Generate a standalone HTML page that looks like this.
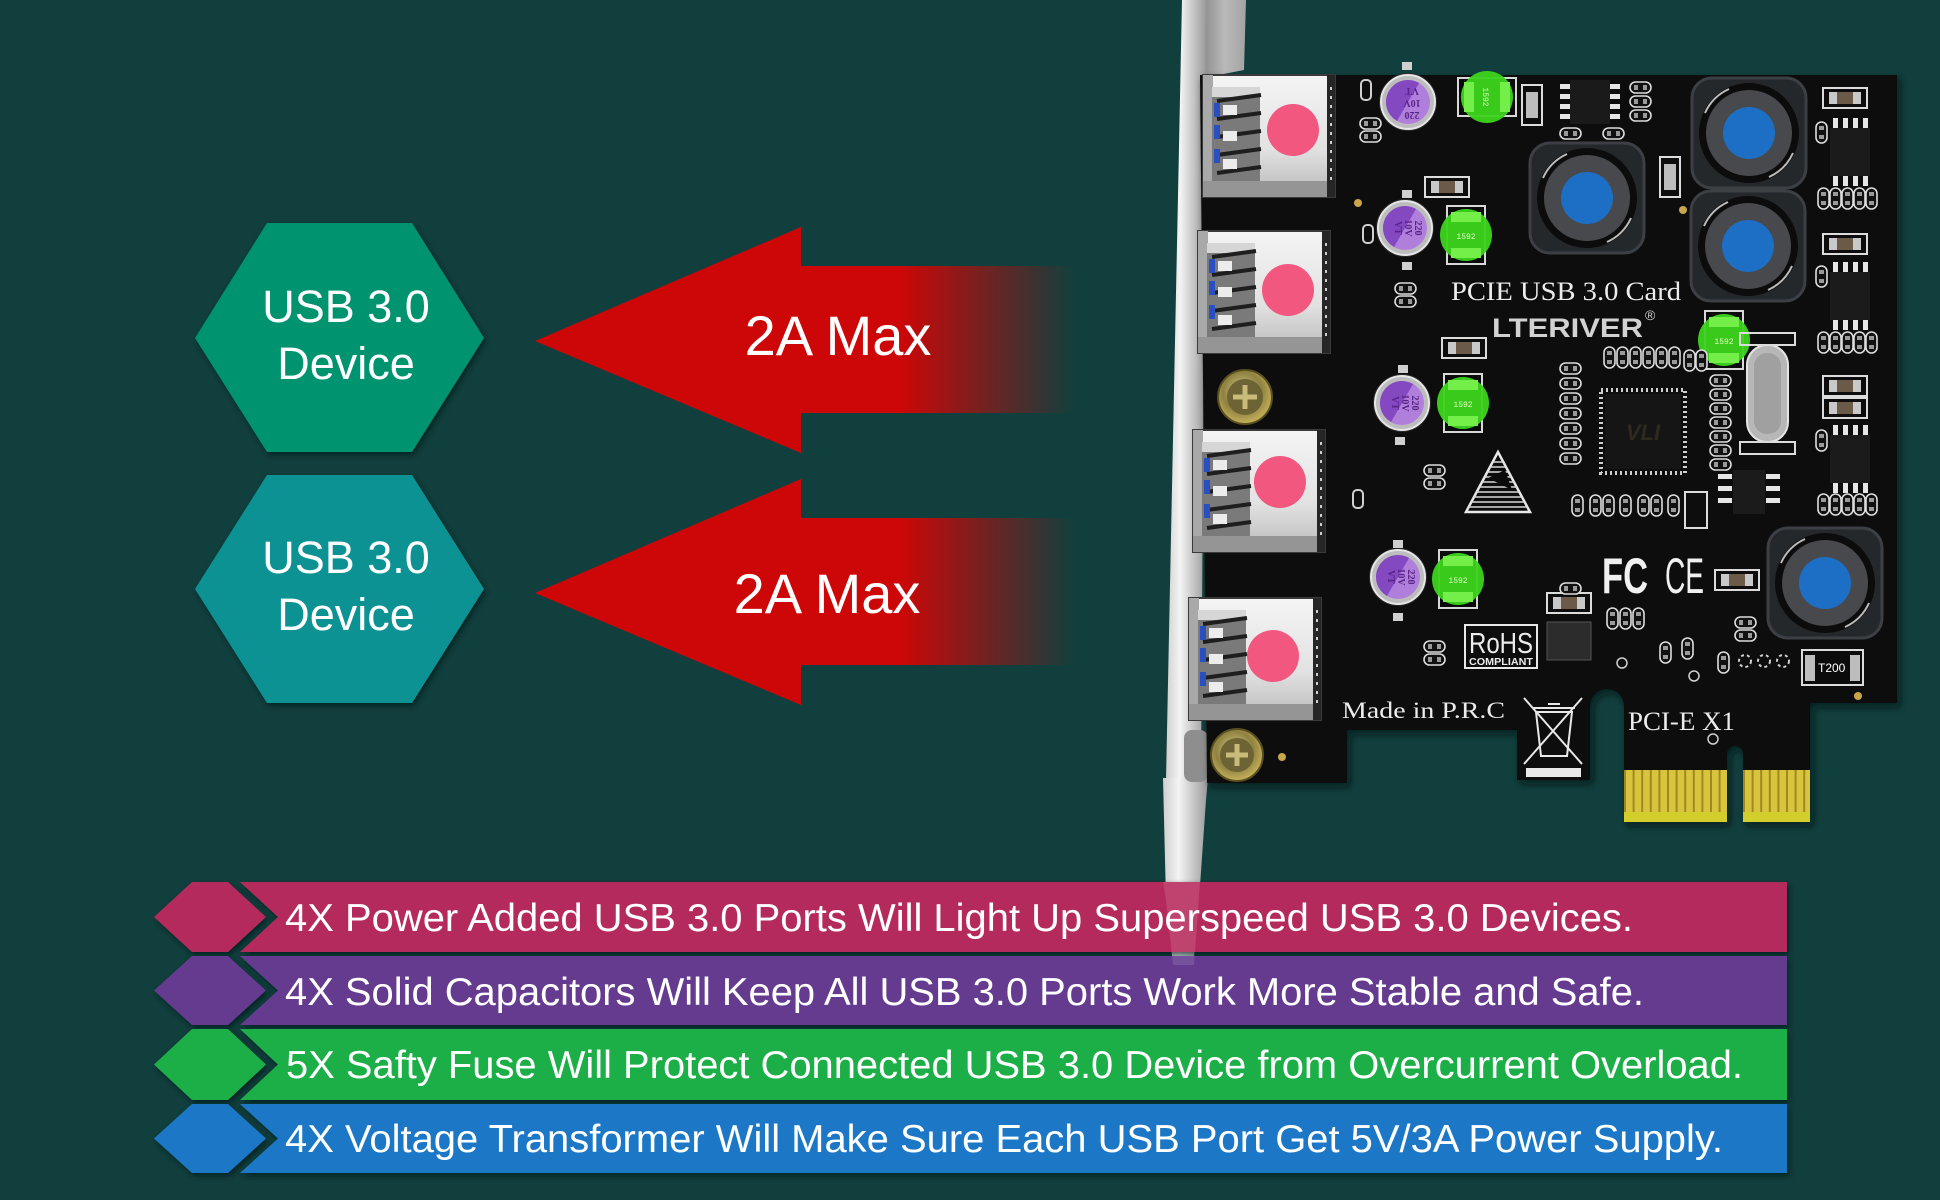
<!DOCTYPE html>
<html><head><meta charset="utf-8">
<style>
html,body{margin:0;padding:0;background:#113f3d;}
svg{display:block;}
</style></head><body>
<svg width="1940" height="1200" viewBox="0 0 1940 1200" xmlns="http://www.w3.org/2000/svg" xmlns:xlink="http://www.w3.org/1999/xlink" font-family="'Liberation Sans', Arial, sans-serif">
<defs>
  <filter id="sh" x="-10%" y="-10%" width="130%" height="130%">
    <feDropShadow dx="2" dy="3" stdDeviation="3" flood-color="#03201e" flood-opacity="0.85"/>
  </filter>
  <filter id="bsh" x="-5%" y="-5%" width="110%" height="110%">
    <feDropShadow dx="3" dy="4" stdDeviation="4" flood-color="#031816" flood-opacity="0.7"/>
  </filter>
  <linearGradient id="arrowG" gradientUnits="userSpaceOnUse" x1="900" y1="0" x2="1075" y2="0">
    <stop offset="0" stop-color="#cd0707" stop-opacity="1"/>
    <stop offset="1" stop-color="#cd0707" stop-opacity="0"/>
  </linearGradient>
  <linearGradient id="brk" x1="0" y1="0" x2="1" y2="0">
    <stop offset="0" stop-color="#cfcfcf"/>
    <stop offset="0.35" stop-color="#f4f4f4"/>
    <stop offset="1" stop-color="#9a9a9a"/>
  </linearGradient>
  <linearGradient id="flange" x1="0" y1="0" x2="1" y2="0">
    <stop offset="0" stop-color="#8d8d8d"/>
    <stop offset="0.5" stop-color="#b9b9b9"/>
    <stop offset="1" stop-color="#a3a3a3"/>
  </linearGradient>
  <linearGradient id="silver" x1="0" y1="0" x2="0" y2="1">
    <stop offset="0" stop-color="#f4f4f4"/>
    <stop offset="0.6" stop-color="#e2e2e2"/>
    <stop offset="1" stop-color="#b9b9b9"/>
  </linearGradient>
  <radialGradient id="screwG" cx="0.45" cy="0.4" r="0.6">
    <stop offset="0" stop-color="#d8cc8a"/>
    <stop offset="0.6" stop-color="#8f8240"/>
    <stop offset="1" stop-color="#c6b25c"/>
  </radialGradient>

  <g id="port">
    <rect x="0" y="0" width="132" height="122" fill="url(#silver)" stroke="#3a3a3a" stroke-width="2"/>
    <rect x="0" y="0" width="10" height="122" fill="#a9a9a9"/>
    <rect x="9" y="12" width="48" height="96" fill="#7a7a7a"/>
    <rect x="9" y="12" width="48" height="10" fill="#d6d6d6"/>
    <path d="M14,26 L58,20 M14,44 L58,38 M14,62 L58,56 M14,80 L58,74 M14,98 L58,92" stroke="#1e1e1e" stroke-width="4" fill="none"/>
    <rect x="11" y="28" width="6" height="14" fill="#2a4fc0"/>
    <rect x="11" y="50" width="6" height="14" fill="#2a4fc0"/>
    <rect x="11" y="74" width="6" height="14" fill="#2a4fc0"/>
    <rect x="20" y="30" width="14" height="10" fill="#ececec"/>
    <rect x="20" y="56" width="14" height="10" fill="#ececec"/>
    <rect x="20" y="84" width="14" height="10" fill="#ececec"/>
    <rect x="0" y="106" width="132" height="16" fill="#959595"/>
    <rect x="124" y="0" width="8" height="122" fill="#262626"/>
    <path d="M128,12 V110" stroke="#cfcfcf" stroke-width="2" stroke-dasharray="3 6"/>
  </g>

  <g id="cap">
    <circle r="29" fill="#2a2a2a"/>
    <circle r="27" fill="#bdbdbd" stroke="#e6e6e6" stroke-width="2"/>
    <circle r="22" fill="#b07fdc"/>
    <path d="M-22,0 A22,22 0 0 1 22,0 Z" fill="#8448c0" transform="rotate(-60)"/>
  </g>

  <g id="fuse">
    <rect x="-19" y="-29" width="38" height="58" fill="#0a0a0a" stroke="#d8d8d8" stroke-width="2"/>
    <circle r="26" fill="#3cd21d" fill-opacity="0.96"/>
    <rect x="-15" y="-23" width="30" height="10" fill="#74ee48"/>
    <rect x="-15" y="13" width="30" height="10" fill="#74ee48"/>
    <text x="0" y="4" font-size="8" fill="#e0ffc0" text-anchor="middle" font-family="'Liberation Mono', monospace">1592</text>
  </g>

  <g id="ind">
    <rect x="-57" y="-55" width="114" height="110" rx="20" fill="#25282b" stroke="#3c4044" stroke-width="3"/>
    <circle r="50" fill="#0c0c0c"/>
    <path d="M-44,-20 A48,48 0 0 1 -20,-44 M44,20 A48,48 0 0 1 20,44" stroke="#bbb" stroke-width="2" fill="none"/>
    <circle r="43" fill="#48494c"/>
    <circle r="26" fill="#1d6fc6"/>
  </g>

  <g id="pdv">
    <rect x="0" y="0" width="11" height="21" rx="5.5" fill="#111" stroke="#dcdcdc" stroke-width="1.6"/>
    <rect x="3" y="4" width="5" height="4" fill="#9a9a9a"/>
    <rect x="3" y="13" width="5" height="4" fill="#9a9a9a"/>
  </g>
  <g id="pdh">
    <rect x="0" y="0" width="21" height="11" rx="5.5" fill="#111" stroke="#dcdcdc" stroke-width="1.6"/>
    <rect x="4" y="3" width="4" height="5" fill="#9a9a9a"/>
    <rect x="13" y="3" width="4" height="5" fill="#9a9a9a"/>
  </g>
  <g id="res">
    <rect x="0" y="0" width="44" height="20" fill="#0d0d0d" stroke="#dcdcdc" stroke-width="2"/>
    <rect x="6" y="4" width="32" height="12" fill="#c9c9c9"/>
    <rect x="14" y="4" width="16" height="12" fill="#6b5a48"/>
  </g>
  <g id="ic8">
    <rect x="0" y="0" width="40" height="48" fill="#1b1b1b"/>
    <rect x="3" y="-10" width="5" height="10" fill="#e6e6e6"/>
    <rect x="13" y="-10" width="5" height="10" fill="#e6e6e6"/>
    <rect x="23" y="-10" width="5" height="10" fill="#e6e6e6"/>
    <rect x="33" y="-10" width="5" height="10" fill="#e6e6e6"/>
    <rect x="3" y="48" width="5" height="10" fill="#e6e6e6"/>
    <rect x="13" y="48" width="5" height="10" fill="#e6e6e6"/>
    <rect x="23" y="48" width="5" height="10" fill="#e6e6e6"/>
    <rect x="33" y="48" width="5" height="10" fill="#e6e6e6"/>
  </g>
  <clipPath id="triClip"><polygon points="1498,452 1466,512 1530,512"/></clipPath>
</defs>

<rect width="1940" height="1200" fill="#113f3d"/>

<!-- Hexagons -->
<polygon points="195,338 267,223 412,223 484,338 412,452 267,452" fill="#05936f" filter="url(#sh)"/>
<polygon points="195,589 267,475 412,475 484,589 412,703 267,703" fill="#0e9294" filter="url(#sh)"/>
<g fill="#ffffff" font-size="45" text-anchor="middle">
  <text x="346" y="322">USB 3.0</text>
  <text x="346" y="379">Device</text>
  <text x="346" y="573">USB 3.0</text>
  <text x="346" y="630">Device</text>
</g>

<!-- Arrows -->
<polygon points="535,341 801,227 801,266 1075,266 1075,413 801,413 801,453" fill="url(#arrowG)"/>
<polygon points="535,593 801,479 801,518 1075,518 1075,665 801,665 801,705" fill="url(#arrowG)"/>
<g fill="#ffffff" font-size="56" text-anchor="middle">
  <text x="838" y="355">2A Max</text>
  <text x="827" y="613">2A Max</text>
</g>

<!-- Bracket -->
<polygon points="1203,0 1246,0 1244,70 1203,78" fill="url(#flange)"/>
<polygon points="1182,0 1206,0 1201,780 1166,780" fill="url(#brk)"/>
<polygon points="1163,778 1208,778 1206,800 1199,900 1193,965 1173,965 1166,900" fill="url(#brk)"/>
<rect x="1184" y="730" width="24" height="52" rx="8" fill="#8e8e8e"/>

<!-- Board -->
<path d="M1200,75 H1897 V703 H1810 V822 H1743 V754 A8,8 0 0 0 1727,754 V822 H1624 V706 A17,17 0 0 0 1590,706 V780 H1517 V730 H1347 V783 H1207 Z" fill="#0b0b0b" filter="url(#bsh)"/>

<!-- Gold fingers -->
<rect x="1624" y="770" width="103" height="52" fill="#d9c43e"/>
<rect x="1743" y="770" width="67" height="52" fill="#d9c43e"/>
<line x1="1624" y1="791" x2="1727" y2="791" stroke="#9f8a22" stroke-width="42" stroke-dasharray="2 6.6"/>
<line x1="1743" y1="791" x2="1810" y2="791" stroke="#9f8a22" stroke-width="42" stroke-dasharray="2 6.6"/>
<rect x="1624" y="812" width="103" height="10" fill="#d2cf2c"/>
<rect x="1743" y="812" width="67" height="10" fill="#d2cf2c"/>

<!-- Ports -->
<use xlink:href="#port" href="#port" x="1203" y="75"/>
<use xlink:href="#port" href="#port" x="1198" y="231"/>
<use xlink:href="#port" href="#port" x="1193" y="430"/>
<use xlink:href="#port" href="#port" x="1189" y="598"/>
<g fill="#f2577f">
  <circle cx="1293" cy="130" r="26"/>
  <circle cx="1288" cy="290" r="26"/>
  <circle cx="1280" cy="482" r="26"/>
  <circle cx="1273" cy="656" r="26"/>
</g>

<!-- Screws -->
<g>
  <circle cx="1245" cy="397" r="27" fill="url(#screwG)" stroke="#5a4f20" stroke-width="2"/>
  <circle cx="1245" cy="397" r="18" fill="#6d6335"/>
  <path d="M1233,397 H1257 M1245,385 V409" stroke="#c9bb7a" stroke-width="5"/>
  <circle cx="1237" cy="755" r="26" fill="url(#screwG)" stroke="#5a4f20" stroke-width="2"/>
  <circle cx="1237" cy="755" r="17" fill="#6d6335"/>
  <path d="M1226,755 H1248 M1237,744 V766" stroke="#c9bb7a" stroke-width="5"/>
</g>
<g fill="#c9a64a">
  <circle cx="1358" cy="203" r="4"/>
  <circle cx="1282" cy="757" r="4"/>
  <circle cx="1683" cy="210" r="4"/>
  <circle cx="1858" cy="696" r="4"/>
</g>

<!-- Inductors -->
<use xlink:href="#ind" href="#ind" x="1587" y="198"/>
<use xlink:href="#ind" href="#ind" x="1749" y="133"/>
<use xlink:href="#ind" href="#ind" x="1748" y="246"/>
<use xlink:href="#ind" href="#ind" x="1825" y="583"/>

<!-- Capacitors -->
<use xlink:href="#cap" href="#cap" x="1408" y="102"/>
<use xlink:href="#cap" href="#cap" x="1405" y="228"/>
<use xlink:href="#cap" href="#cap" x="1402" y="403"/>
<use xlink:href="#cap" href="#cap" x="1398" y="577"/>
<g font-family="'Liberation Serif', serif" font-size="10" fill="#5a2488" font-weight="bold">
  <text transform="translate(1412,88) rotate(180)" text-anchor="middle">VT</text>
  <text transform="translate(1412,100) rotate(180)" text-anchor="middle">10V</text>
  <text transform="translate(1412,112) rotate(180)" text-anchor="middle">220</text>
  <text transform="translate(1415,228) rotate(90)" text-anchor="middle">220</text>
  <text transform="translate(1405,228) rotate(90)" text-anchor="middle">10V</text>
  <text transform="translate(1395,228) rotate(90)" text-anchor="middle">VT</text>
  <text transform="translate(1412,403) rotate(90)" text-anchor="middle">220</text>
  <text transform="translate(1402,403) rotate(90)" text-anchor="middle">10V</text>
  <text transform="translate(1392,403) rotate(90)" text-anchor="middle">VT</text>
  <text transform="translate(1408,577) rotate(90)" text-anchor="middle">220</text>
  <text transform="translate(1398,577) rotate(90)" text-anchor="middle">10V</text>
  <text transform="translate(1388,577) rotate(90)" text-anchor="middle">VT</text>
</g>
<g fill="#cfcfcf">
  <rect x="1402" y="62" width="10" height="8"/>
  <rect x="1402" y="190" width="10" height="8"/>
  <rect x="1402" y="262" width="10" height="8"/>
  <rect x="1398" y="365" width="10" height="8"/>
  <rect x="1395" y="437" width="10" height="8"/>
  <rect x="1393" y="540" width="10" height="8"/>
  <rect x="1393" y="613" width="10" height="8"/>
</g>

<!-- Fuses -->
<use xlink:href="#fuse" href="#fuse" transform="translate(1487,97) rotate(90)"/>
<use xlink:href="#fuse" href="#fuse" x="1466" y="235"/>
<use xlink:href="#fuse" href="#fuse" x="1463" y="403"/>
<use xlink:href="#fuse" href="#fuse" x="1458" y="579"/>
<use xlink:href="#fuse" href="#fuse" x="1724" y="340"/>

<!-- Small parts -->
<rect x="1522" y="85" width="20" height="40" fill="#0d0d0d" stroke="#dcdcdc" stroke-width="2"/>
<rect x="1526" y="92" width="12" height="26" fill="#bdbdbd"/>
<rect x="1660" y="157" width="20" height="40" fill="#0d0d0d" stroke="#dcdcdc" stroke-width="2"/>
<rect x="1664" y="164" width="12" height="26" fill="#bdbdbd"/>
<use xlink:href="#res" href="#res" x="1425" y="177"/>
<use xlink:href="#res" href="#res" x="1442" y="338"/>
<use xlink:href="#res" href="#res" x="1823" y="88"/>
<use xlink:href="#res" href="#res" x="1823" y="234"/>
<use xlink:href="#res" href="#res" x="1823" y="376"/>
<use xlink:href="#res" href="#res" x="1823" y="398"/>
<use xlink:href="#res" href="#res" x="1547" y="593"/>
<use xlink:href="#res" href="#res" x="1715" y="570"/>

<!-- top IC -->
<rect x="1570" y="80" width="40" height="44" fill="#1a1a1a"/>
<g fill="#e6e6e6">
  <rect x="1560" y="84" width="10" height="5"/><rect x="1560" y="94" width="10" height="5"/><rect x="1560" y="104" width="10" height="5"/><rect x="1560" y="114" width="10" height="5"/>
  <rect x="1610" y="84" width="10" height="5"/><rect x="1610" y="94" width="10" height="5"/><rect x="1610" y="104" width="10" height="5"/><rect x="1610" y="114" width="10" height="5"/>
</g>
<use xlink:href="#pdh" href="#pdh" x="1560" y="128"/>
<use xlink:href="#pdh" href="#pdh" x="1603" y="128"/>
<use xlink:href="#pdh" href="#pdh" x="1630" y="82"/>
<use xlink:href="#pdh" href="#pdh" x="1630" y="96"/>
<use xlink:href="#pdh" href="#pdh" x="1630" y="110"/>

<!-- right column ICs -->
<use xlink:href="#ic8" href="#ic8" x="1830" y="128"/>
<use xlink:href="#ic8" href="#ic8" x="1830" y="272"/>
<use xlink:href="#ic8" href="#ic8" x="1830" y="435"/>
<use xlink:href="#pdv" href="#pdv" x="1816" y="122"/>
<use xlink:href="#pdv" href="#pdv" x="1816" y="266"/>
<use xlink:href="#pdv" href="#pdv" x="1816" y="430"/>
<g>
  <use xlink:href="#pdv" href="#pdv" x="1818" y="188"/><use xlink:href="#pdv" href="#pdv" x="1830" y="188"/><use xlink:href="#pdv" href="#pdv" x="1842" y="188"/><use xlink:href="#pdv" href="#pdv" x="1854" y="188"/><use xlink:href="#pdv" href="#pdv" x="1866" y="188"/>
  <use xlink:href="#pdv" href="#pdv" x="1818" y="332"/><use xlink:href="#pdv" href="#pdv" x="1830" y="332"/><use xlink:href="#pdv" href="#pdv" x="1842" y="332"/><use xlink:href="#pdv" href="#pdv" x="1854" y="332"/><use xlink:href="#pdv" href="#pdv" x="1866" y="332"/>
  <use xlink:href="#pdv" href="#pdv" x="1818" y="494"/><use xlink:href="#pdv" href="#pdv" x="1830" y="494"/><use xlink:href="#pdv" href="#pdv" x="1842" y="494"/><use xlink:href="#pdv" href="#pdv" x="1854" y="494"/><use xlink:href="#pdv" href="#pdv" x="1866" y="494"/>
</g>

<!-- chip -->
<rect x="1601" y="390" width="84" height="83" fill="none" stroke="#cfcfcf" stroke-width="4" stroke-dasharray="2 3"/>
<rect x="1605" y="394" width="76" height="75" fill="#151515"/>
<text x="1643" y="440" font-size="22" font-style="italic" font-weight="bold" fill="#2e2a1e" text-anchor="middle">VLI</text>
<g>
  <use xlink:href="#pdv" href="#pdv" x="1604" y="347"/><use xlink:href="#pdv" href="#pdv" x="1617" y="347"/><use xlink:href="#pdv" href="#pdv" x="1630" y="347"/><use xlink:href="#pdv" href="#pdv" x="1643" y="347"/><use xlink:href="#pdv" href="#pdv" x="1656" y="347"/><use xlink:href="#pdv" href="#pdv" x="1669" y="347"/>
  <use xlink:href="#pdv" href="#pdv" x="1684" y="350"/><use xlink:href="#pdv" href="#pdv" x="1696" y="350"/>
  <use xlink:href="#pdh" href="#pdh" x="1560" y="363"/><use xlink:href="#pdh" href="#pdh" x="1560" y="378"/><use xlink:href="#pdh" href="#pdh" x="1560" y="393"/><use xlink:href="#pdh" href="#pdh" x="1560" y="408"/><use xlink:href="#pdh" href="#pdh" x="1560" y="423"/><use xlink:href="#pdh" href="#pdh" x="1560" y="438"/><use xlink:href="#pdh" href="#pdh" x="1560" y="453"/>
  <use xlink:href="#pdh" href="#pdh" x="1710" y="375"/><use xlink:href="#pdh" href="#pdh" x="1710" y="389"/><use xlink:href="#pdh" href="#pdh" x="1710" y="403"/><use xlink:href="#pdh" href="#pdh" x="1710" y="417"/><use xlink:href="#pdh" href="#pdh" x="1710" y="431"/><use xlink:href="#pdh" href="#pdh" x="1710" y="445"/><use xlink:href="#pdh" href="#pdh" x="1710" y="459"/>
  <use xlink:href="#pdv" href="#pdv" x="1572" y="495"/><use xlink:href="#pdv" href="#pdv" x="1590" y="495"/><use xlink:href="#pdv" href="#pdv" x="1603" y="495"/><use xlink:href="#pdv" href="#pdv" x="1620" y="495"/><use xlink:href="#pdv" href="#pdv" x="1638" y="495"/><use xlink:href="#pdv" href="#pdv" x="1651" y="495"/><use xlink:href="#pdv" href="#pdv" x="1668" y="495"/>
  <use xlink:href="#pdh" href="#pdh" x="1360" y="118"/><use xlink:href="#pdh" href="#pdh" x="1360" y="131"/>
  <use xlink:href="#pdh" href="#pdh" x="1395" y="283"/><use xlink:href="#pdh" href="#pdh" x="1395" y="296"/>
  <use xlink:href="#pdh" href="#pdh" x="1424" y="465"/><use xlink:href="#pdh" href="#pdh" x="1424" y="478"/>
  <use xlink:href="#pdh" href="#pdh" x="1424" y="641"/><use xlink:href="#pdh" href="#pdh" x="1424" y="654"/>
  <use xlink:href="#pdh" href="#pdh" x="1735" y="617"/><use xlink:href="#pdh" href="#pdh" x="1735" y="630"/>
  <use xlink:href="#pdh" href="#pdh" x="1560" y="583"/>
  <use xlink:href="#pdv" href="#pdv" x="1607" y="608"/><use xlink:href="#pdv" href="#pdv" x="1620" y="608"/><use xlink:href="#pdv" href="#pdv" x="1633" y="608"/>
  <use xlink:href="#pdv" href="#pdv" x="1660" y="642"/><use xlink:href="#pdv" href="#pdv" x="1682" y="638"/>
  <use xlink:href="#pdv" href="#pdv" x="1718" y="652"/>
</g>
<rect x="1361" y="80" width="10" height="20" rx="4" fill="none" stroke="#cfcfcf" stroke-width="2"/>
<rect x="1363" y="225" width="10" height="18" rx="4" fill="none" stroke="#cfcfcf" stroke-width="2"/>
<rect x="1353" y="490" width="10" height="18" rx="4" fill="none" stroke="#cfcfcf" stroke-width="2"/>
<!-- small IC near chip -->
<rect x="1733" y="470" width="32" height="44" fill="#1b1b1b"/>
<g fill="#e6e6e6">
  <rect x="1718" y="474" width="14" height="5"/><rect x="1718" y="486" width="14" height="5"/><rect x="1718" y="498" width="14" height="5"/>
  <rect x="1766" y="474" width="14" height="5"/><rect x="1766" y="486" width="14" height="5"/><rect x="1766" y="498" width="14" height="5"/>
</g>
<rect x="1685" y="492" width="22" height="36" fill="#0d0d0d" stroke="#dcdcdc" stroke-width="2"/>
<!-- crystal -->
<rect x="1747" y="345" width="41" height="97" rx="20" fill="#b7b7b7" stroke="#e4e4e4" stroke-width="2"/>
<rect x="1754" y="353" width="27" height="81" rx="13" fill="#a0a0a0"/>
<rect x="1740" y="333" width="55" height="12" fill="none" stroke="#dcdcdc" stroke-width="2"/>
<rect x="1740" y="442" width="55" height="12" fill="none" stroke="#dcdcdc" stroke-width="2"/>
<!-- small inductor near rohs -->
<rect x="1547" y="622" width="44" height="38" fill="#2c2c2c" stroke="#555" stroke-width="1"/>
<circle cx="1622" cy="663" r="5" fill="none" stroke="#cfcfcf" stroke-width="1.5"/>
<circle cx="1694" cy="676" r="5" fill="none" stroke="#cfcfcf" stroke-width="1.5"/>
<g fill="none" stroke="#cfcfcf" stroke-width="2" stroke-dasharray="3 3">
  <circle cx="1745" cy="661" r="6"/><circle cx="1764" cy="661" r="6"/><circle cx="1783" cy="661" r="6"/>
</g>
<!-- T200 -->
<rect x="1802" y="650" width="61" height="35" fill="#0b0b0b" stroke="#dcdcdc" stroke-width="2"/>
<rect x="1805" y="655" width="10" height="26" fill="#bdbdbd"/>
<rect x="1850" y="655" width="10" height="26" fill="#bdbdbd"/>
<text x="1818" y="672" font-size="12" fill="#ffffff">T200</text>

<!-- Triangle logo -->
<polygon points="1498,452 1466,512 1530,512" fill="none" stroke="#e8e8e8" stroke-width="2.5"/>
<g clip-path="url(#triClip)" stroke="#d8d8d8" stroke-width="1.6">
  <line x1="1460" y1="462" x2="1540" y2="462"/><line x1="1460" y1="467" x2="1540" y2="467"/><line x1="1460" y1="472" x2="1540" y2="472"/>
  <line x1="1460" y1="477" x2="1540" y2="477"/><line x1="1460" y1="482" x2="1540" y2="482"/><line x1="1460" y1="487" x2="1540" y2="487"/>
  <line x1="1460" y1="492" x2="1540" y2="492"/><line x1="1460" y1="497" x2="1540" y2="497"/><line x1="1460" y1="502" x2="1540" y2="502"/>
  <line x1="1460" y1="507" x2="1540" y2="507"/>
</g>
<path d="M1488,478 L1505,470 L1512,490 Z" fill="#0b0b0b"/>

<!-- PCB texts -->
<text x="1451" y="300" font-family="'Liberation Serif', serif" font-size="26" fill="#ececec" textLength="230" lengthAdjust="spacingAndGlyphs">PCIE USB 3.0 Card</text>
<text x="1492" y="337" font-size="27" font-weight="bold" fill="#d2d2d2" textLength="151" lengthAdjust="spacingAndGlyphs">LTERIVER</text>
<text x="1645" y="320" font-size="14" fill="#d2d2d2">®</text>
<text x="1342" y="718" font-family="'Liberation Serif', serif" font-size="23" fill="#ececec" textLength="163" lengthAdjust="spacingAndGlyphs">Made in P.R.C</text>
<text x="1628" y="730" font-family="'Liberation Serif', serif" font-size="26" fill="#ececec" textLength="107" lengthAdjust="spacingAndGlyphs">PCI-E X1</text>
<circle cx="1713" cy="739" r="5" fill="none" stroke="#cfcfcf" stroke-width="1.5"/>
<rect x="1465" y="625" width="72" height="43" fill="none" stroke="#e8e8e8" stroke-width="2"/>
<text x="1469" y="653" font-size="29" fill="#ececec" textLength="64" lengthAdjust="spacingAndGlyphs">RoHS</text>
<text x="1469" y="665" font-size="10" font-weight="bold" fill="#ececec" textLength="64" lengthAdjust="spacingAndGlyphs">COMPLIANT</text>
<text x="1602" y="593" font-size="50" font-weight="bold" fill="#f0f0f0" textLength="46" lengthAdjust="spacingAndGlyphs">FC</text>
<text x="1665" y="593" font-size="50" fill="#f0f0f0" textLength="39" lengthAdjust="spacingAndGlyphs">CE</text>

<!-- Recycle bin -->
<g stroke="#e8e8e8" stroke-width="2" fill="none">
  <path d="M1536,712 H1572 L1567,756 H1541 Z"/>
  <path d="M1533,708 H1575"/>
  <path d="M1548,704 H1560"/>
  <path d="M1524,698 L1582,764 M1582,698 L1524,764"/>
</g>
<rect x="1526" y="768" width="55" height="9" fill="#e8e8e8"/>

<!-- Banners -->
<g filter="url(#sh)">
  <polygon points="154,917 192,882 228,882 266,917 228,952 192,952" fill="#b52b5c"/>
  <polygon points="240,882 1787,882 1787,952 240,952 278,917" fill="#b52b5c"/>
  <polygon points="154,990.5 192,956 228,956 266,990.5 228,1025 192,1025" fill="#653a8f"/>
  <polygon points="240,956 1787,956 1787,1025 240,1025 278,990.5" fill="#653a8f"/>
  <polygon points="154,1064.5 192,1029 228,1029 266,1064.5 228,1100 192,1100" fill="#1fae47"/>
  <polygon points="240,1029 1787,1029 1787,1100 240,1100 278,1064.5" fill="#1fae47"/>
  <polygon points="154,1138.5 192,1104 228,1104 266,1138.5 228,1173 192,1173" fill="#1c78c6"/>
  <polygon points="240,1104 1787,1104 1787,1173 240,1173 278,1138.5" fill="#1c78c6"/>
</g>
<!-- bracket tip seen through banner -->
<polygon points="1163,882 1200,882 1194,965 1173,965 1166,900" fill="#ffffff" fill-opacity="0.12"/>

<g fill="#ffffff" font-size="39">
  <text x="285" y="931" textLength="1348" lengthAdjust="spacingAndGlyphs">4X Power Added USB 3.0 Ports Will Light Up Superspeed USB 3.0 Devices.</text>
  <text x="285" y="1005" textLength="1359" lengthAdjust="spacingAndGlyphs">4X Solid Capacitors Will Keep All USB 3.0 Ports Work More Stable and Safe.</text>
  <text x="286" y="1078" textLength="1457" lengthAdjust="spacingAndGlyphs">5X Safty Fuse Will Protect Connected USB 3.0 Device from Overcurrent Overload.</text>
  <text x="285" y="1152" textLength="1438" lengthAdjust="spacingAndGlyphs">4X Voltage Transformer Will Make Sure Each USB Port Get 5V/3A Power Supply.</text>
</g>
</svg>
</body></html>
